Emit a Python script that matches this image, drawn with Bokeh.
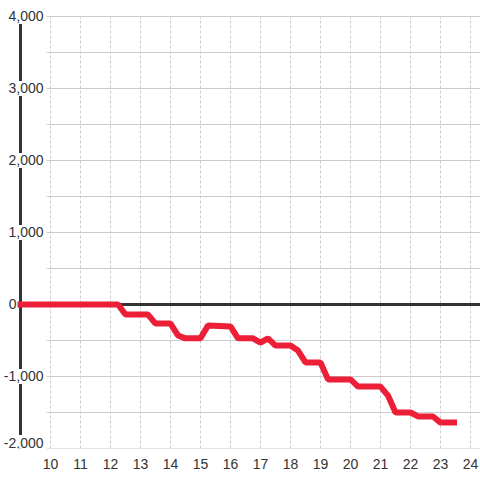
from bokeh.plotting import figure
from bokeh.models import ColumnDataSource, FixedTicker, LabelSet
from bokeh.core.properties import value
from bokeh.embed import file_html
from bokeh.resources import INLINE

# ---- data ----
hours = [8.9, 12.25, 12.5, 13.25, 13.5, 14.0, 14.25, 14.5, 15.0, 15.25, 16.0,
         16.25, 16.75, 17.0, 17.25, 17.5, 18.0, 18.25, 18.5, 19.0, 19.25, 20.0,
         20.25, 21.0, 21.25, 21.5, 22.0, 22.25, 22.75, 23.0, 23.55]
values = [0, 0, -140, -140, -265, -265, -430, -470, -470, -292, -305,
          -470, -470, -530, -470, -570, -570, -640, -805, -805, -1040, -1040,
          -1140, -1140, -1265, -1500, -1500, -1555, -1555, -1640, -1640]
x_ticks = list(range(10, 25))
y_grid = [-2000, -1500, -1000, -500, 0, 500, 1000, 1500, 2000, 2500, 3000, 3500, 4000]
y_label_vals = [-2000, -1000, 0, 1000, 2000, 3000, 4000]
y_label_text = ["-2,000", "-1,000", "0", "1,000", "2,000", "3,000", "4,000"]

FONT = "Liberation Sans"
FS = "14px"
TXT = "#333333"
GRID = "#cccccc"
DARK = "#333333"

axis_x = 9.0          # position of the vertical axis line
y_min, y_max = -2000, 4000

# visible ranges (room left of the axis line and above the top tick for labels)
x_lo, x_hi = 8.3333, 24.3333
y_lo, y_hi = -2000, 4222.2
W, H, BOTTOM = 480, 480, 32
px_per_x = W / (x_hi - x_lo)
px_per_y = (H - BOTTOM) / (y_hi - y_lo)

p = figure(width=W, height=H, output_backend="svg", toolbar_location=None,
           x_range=(x_lo, x_hi), y_range=(y_lo, y_hi),
           y_axis_location=None,
           min_border_left=0, min_border_right=0, min_border_top=0, min_border_bottom=BOTTOM)
p.outline_line_color = None
p.background_fill_color = "white"
p.border_fill_color = "white"
p.grid.visible = False

# x axis
ax = p.xaxis[0]
ax.ticker = FixedTicker(ticks=x_ticks)
ax.axis_line_color = None
ax.major_tick_line_color = None
ax.minor_tick_line_color = None
ax.major_label_standoff = 4
ax.major_label_text_font = FONT
ax.major_label_text_font_size = FS
ax.major_label_text_color = TXT

# vertical dotted grid lines
nx = len(x_ticks)
p.segment(x0=x_ticks, x1=x_ticks, y0=[y_min] * nx, y1=[y_max] * nx,
          line_color=GRID, line_width=1, line_dash="3 2", level="underlay")

# horizontal grid lines starting right of the labels
grid_x0 = axis_x + 0.87
ny = len(y_grid)
p.segment(x0=[grid_x0] * ny, x1=[x_hi] * ny, y0=y_grid, y1=y_grid,
          line_color=GRID, line_width=1, level="underlay")

# axis line and zero line
p.segment(x0=[axis_x], x1=[axis_x], y0=[y_min], y1=[y_max],
          line_color=DARK, line_width=3, level="underlay")
p.segment(x0=[axis_x], x1=[x_hi], y0=[0], y1=[0],
          line_color=DARK, line_width=3, level="underlay")

# y label positions (pixel offsets from the axis line)
x_off = [-4 if v == 0 else 23 for v in y_label_vals]
y_off = [6 if v == y_min else 0 for v in y_label_vals]

# white boxes behind the labels that sit on the axis line
box_y = [v + yo / px_per_y for v, yo in zip(y_label_vals, y_off) if v != 0]
box_x = [axis_x + 4.5 / px_per_x] * len(box_y)
p.rect(x=box_x, y=box_y, width=42, height=15, width_units="screen", height_units="screen",
       fill_color="white", line_color=None)

# data line
p.line(hours, values, line_color="#ec1f37", line_width=6)

# y labels
src = ColumnDataSource(dict(x=[axis_x] * len(y_label_vals), y=y_label_vals, text=y_label_text,
                            xo=x_off, yo=y_off))
labels = LabelSet(x="x", y="y", text="text", source=src, x_offset="xo", y_offset="yo",
                  text_align="right", text_baseline="middle", text_font=value(FONT),
                  text_font_size=value(FS), text_color=TXT)
p.add_layout(labels)

open("out.html", "w").write(file_html(p, INLINE))
